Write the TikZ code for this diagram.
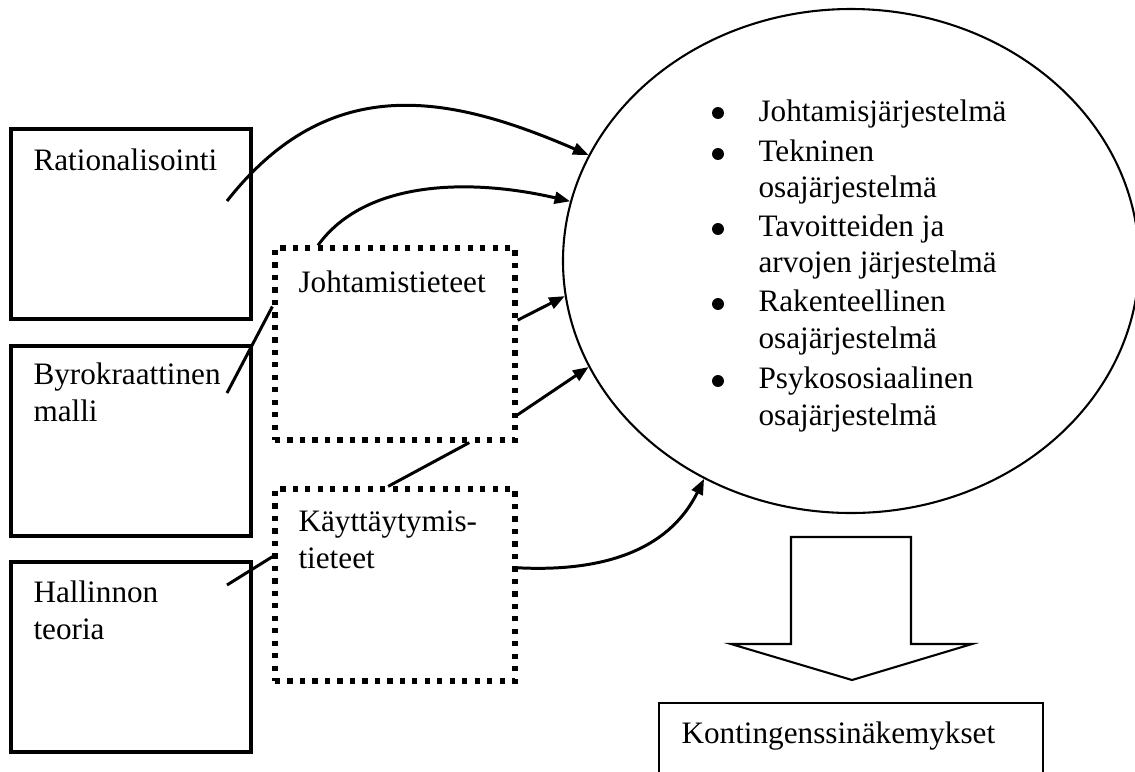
\documentclass[tikz,border=0pt]{standalone}
\usepackage{fontspec}
\setmainfont{Liberation Serif}
\usetikzlibrary{arrows.meta,shapes.geometric}

\newcommand{\px}{0.3846pt}
\tikzset{
	boite/.style={draw, rectangle, line width=1.5pt, inner sep=0pt},
	pointille/.style={draw, rectangle, line width=2pt, dash pattern=on 2pt off 2.8pt, inner sep=0pt},
	fleche/.style={line width=1.15pt, -{Triangle[length=6pt,width=4.6pt]}},
	trait/.style={line width=1.15pt},
	texte/.style={anchor=base west, inner sep=0pt, font=\fontsize{12pt}{14.2pt}\selectfont},
}

\begin{document}
\begin{tikzpicture}[x=0.3846pt, y=-0.3846pt]
	\useasboundingbox (0,0) rectangle (1135,771);
	\clip (0,0) rectangle (1135,771);
	% les boites
	\node[boite, minimum width={240*\px}, minimum height={190*\px}] (ratio) at (131,224) {};
	\node[boite, minimum width={240*\px}, minimum height={190*\px}] (byro) at (131,441) {};
	\node[boite, minimum width={240*\px}, minimum height={190*\px}] (hall) at (131,657) {};
	\node[pointille, minimum width={240*\px}, minimum height={192*\px}] (johta) at (395,344) {};
	\node[pointille, minimum width={240*\px}, minimum height={192*\px}] (kayt) at (395,585) {};
	\node[draw, ellipse, line width=0.8pt, inner sep=0pt, minimum width={576*\px}, minimum height={504*\px}] (ell) at (851,261) {};
	\node[draw, rectangle, line width=0.8pt, inner sep=0pt, minimum width={384*\px}, minimum height={100*\px}] (konti) at (851,753) {};
	% les textes
	\node[texte] (tratio) at (33,170) {Rationalisointi};
	\node[texte] (tbyro1) at (33,384) {Byrokraattinen};
	\node[texte] (tbyro2) at (33,421) {malli};
	\node[texte] (thall1) at (33,602) {Hallinnon};
	\node[texte] (thall2) at (33,639) {teoria};
	\node[texte] (tjohta) at (298,292) {Johtamistieteet};
	\node[texte] (tkayt1) at (298,531) {Käyttäytymis-};
	\node[texte] (tkayt2) at (298,568) {tieteet};
	\node[texte] (tkonti) at (681,743) {Kontingenssinäkemykset};
	% la liste
	\fill (718,113) circle (2.3pt);
	\fill (718,154) circle (2.3pt);
	\fill (718,229) circle (2.3pt);
	\fill (718,304) circle (2.3pt);
	\fill (718,381) circle (2.3pt);
	\node[texte] (l1) at (758,121) {Johtamisjärjestelmä};
	\node[texte] (l2) at (758,161) {Tekninen};
	\node[texte] (l3) at (758,197) {osajärjestelmä};
	\node[texte] (l4) at (758,236) {Tavoitteiden ja};
	\node[texte] (l5) at (758,272) {arvojen järjestelmä};
	\node[texte] (l6) at (758,311) {Rakenteellinen};
	\node[texte] (l7) at (758,348) {osajärjestelmä};
	\node[texte] (l8) at (758,388) {Psykososiaalinen};
	\node[texte] (l9) at (758,425) {osajärjestelmä};
	% la grosse fleche
	\draw[line width=0.8pt] (791,537) -- (911,537) -- (911,644) -- (972,644) -- (852,680) -- (731,644) -- (791,644) -- cycle;
	% les liens
	\coordinate (r0) at (227,201);
	\coordinate (b0) at (227,393);
	\coordinate (h0) at (227,585);
	\draw[fleche] (r0) .. controls (330,70) and (450,95) .. (ell.158);
	\draw[fleche] (johta.128) .. controls (365,180) and (470,178) .. (ell.168);
	\draw[fleche] (johta.11) -- (ell.187);
	\draw[fleche] (johta.330) -- (ell.202);
	\draw[fleche] (kayt.8) .. controls (600,572) and (668,552) .. (ell.236);
	\draw[trait] (b0) -- (johta.163);
	\draw[trait] (h0) -- (kayt.167);
	\draw[trait] (kayt.94) -- (johta.307);
\end{tikzpicture}
\end{document}
